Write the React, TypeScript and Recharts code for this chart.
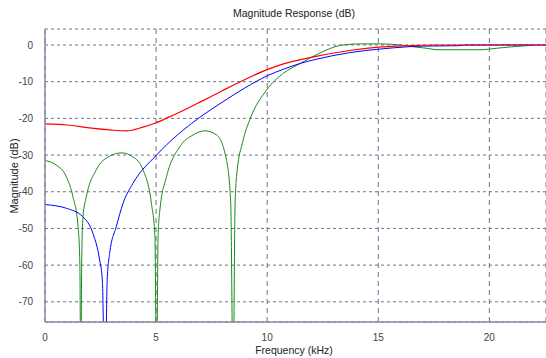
import { CartesianGrid, Line, LineChart, XAxis, YAxis } from "recharts";

// frequencies in kHz, magnitudes in dB
const redFreq = [0, 1, 2, 3, 3.67, 4.4, 5, 5.6, 6.1, 7, 8, 9, 10, 10.7, 11.5, 12.2, 13.7, 15, 16.3, 17.5, 22.6];
const redDb = [-21.5, -21.8, -22.6, -23.2, -23.4, -22.4, -21.2, -19.6, -18.2, -15.5, -12.4, -9.4, -6.7, -5.2, -4.0, -3.1, -1.5, -0.6, -0.2, 0, 0];

const blueFreq = [0, 0.96, 1.7, 2.16, 2.46, 2.58, 2.7, 2.8, 2.91, 3.21, 3.51, 3.96, 5.02, 5.24, 6.22, 6.97, 8, 9, 10, 10.73, 11.5, 12.2, 13.7, 15.08, 16.3, 17, 18.6, 19, 22.6];
const blueDb = [-43.5, -44.5, -46.8, -51.4, -58.6, -64, -95, -64, -56.8, -49.5, -43.2, -37.7, -30, -28.6, -23.2, -19.7, -15.5, -11.7, -8.4, -6.6, -5, -3.9, -2.1, -1.1, -0.5, -0.3, -0.2, 0, 0];

const greenFreq = [0, 0.5, 0.96, 1.26, 1.49, 1.57, 1.61, 1.65, 1.71, 1.86, 2.31, 2.91, 3.44, 3.96, 4.41, 4.79, 4.95, 5.02, 5.09, 5.17, 5.47, 6.07, 6.67, 7.19, 7.72, 8.17, 8.36, 8.47, 8.55, 8.62, 8.92, 9.22, 9.97, 10.73, 11.5, 12.2, 13.4, 14.2, 15, 16, 16.6, 17.2, 17.65, 19.65, 20.3, 21, 21.86];
const greenDb = [-31.5, -32.7, -35.9, -41.4, -49.5, -60, -95, -60, -46.8, -41.4, -34, -30.3, -29.4, -30.5, -34, -43.2, -52.3, -95, -52, -45, -35.9, -27.7, -24.5, -23.4, -24.5, -31.4, -43.2, -95, -45, -35.9, -25.9, -20.3, -12.3, -7.7, -5, -2.7, 0, 0.3, 0.3, 0, -0.5, -0.9, -1.3, -1.3, -0.9, -0.5, -0.1];

const xTicks = [0, 5, 10, 15, 20];
const yTicks = [-70, -60, -50, -40, -30, -20, -10, 0];

const toRows = (f: number[], v: number[]) => f.map((x, i) => ({ f: x, db: v[i] }));

const gridColor = "#6f6f8f";
const frameColor = "#8a8aa2";
const textColor = "#444";
const font = "'Liberation Sans', Arial, sans-serif";

export default function App() {
  const tick = { fill: textColor, fontSize: 10, fontFamily: font };

  return (
    <div style={{ position: "absolute", left: 0, top: 0, width: 546, height: 358, background: "#fff", fontFamily: font }}>
      <div style={{ position: "absolute", left: 194, top: 6, width: 200, textAlign: "center", fontSize: 10.5, lineHeight: "14px", color: "#222" }}>
        Magnitude Response (dB)
      </div>
      <div style={{ position: "absolute", left: 294 - 60, top: 343, width: 120, textAlign: "center", fontSize: 10.5, lineHeight: "14px", color: "#222" }}>
        Frequency (kHz)
      </div>
      <div
        style={{
          position: "absolute",
          left: 14 - 60,
          top: 176 - 7,
          width: 120,
          textAlign: "center",
          fontSize: 11,
          lineHeight: "14px",
          color: "#222",
          transform: "rotate(-90deg)",
        }}
      >
        Magnitude (dB)
      </div>
      <LineChart width={546} height={358} margin={{ top: 29, right: 0, bottom: 0, left: 0 }}>
        <CartesianGrid horizontal={true} vertical={false} stroke={gridColor} strokeDasharray="3 3" />
        <CartesianGrid horizontal={false} vertical={true} stroke={gridColor} strokeDasharray="5 4" />
        <XAxis
          type="number"
          dataKey="f"
          domain={[0, 22.55]}
          ticks={xTicks}
          allowDataOverflow
          height={36}
          tickLine={false}
          tickMargin={6}
          axisLine={{ stroke: frameColor, strokeWidth: 1.5 }}
          tick={tick}
        />
        <YAxis
          type="number"
          domain={[-75.5, 4.36]}
          ticks={yTicks}
          allowDataOverflow
          width={45}
          tickLine={false}
          tickMargin={6}
          axisLine={{ stroke: frameColor, strokeWidth: 1.5 }}
          tick={tick}
        />
        <XAxis
          xAxisId="top"
          orientation="top"
          type="number"
          domain={[0, 22.55]}
          ticks={[]}
          height={0}
          axisLine={{ stroke: frameColor, strokeWidth: 2 }}
          tick={false}
          tickLine={false}
        />
        <Line
          data={toRows(greenFreq, greenDb)}
          dataKey="db"
          type="monotone"
          stroke="#1a8a1a"
          strokeWidth={1}
          dot={false}
          isAnimationActive={false}
        />
        <Line
          data={toRows(blueFreq, blueDb)}
          dataKey="db"
          type="monotone"
          stroke="#0000ff"
          strokeWidth={1}
          dot={false}
          isAnimationActive={false}
        />
        <Line
          data={toRows(redFreq, redDb)}
          dataKey="db"
          type="monotone"
          stroke="#ff0000"
          strokeWidth={1.2}
          dot={false}
          isAnimationActive={false}
        />
      </LineChart>
    </div>
  );
}
